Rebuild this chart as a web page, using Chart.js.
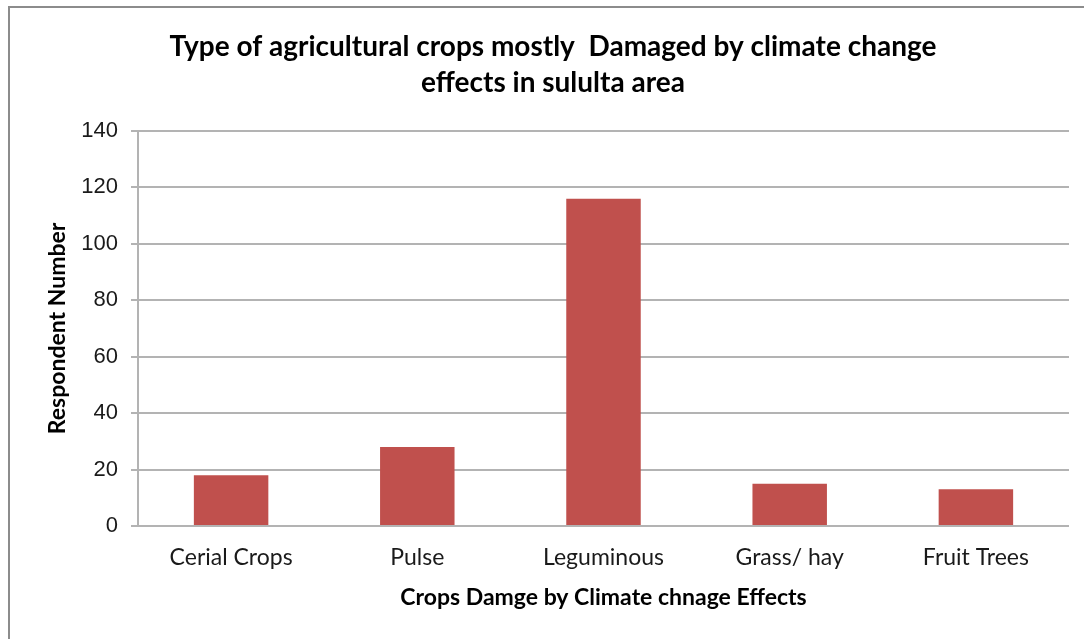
<!DOCTYPE html>
<html>
<head>
<meta charset="utf-8">
<script src="https://cdn.jsdelivr.net/npm/chart.js@4.4.1/dist/chart.umd.min.js"></script>
<style>
  html, body { margin: 0; padding: 0; background: #ffffff; }
  #wrap { position: relative; width: 1084px; height: 639px; }
</style>
</head>
<body>
<div id="wrap"><canvas id="chart" width="1084" height="639"></canvas></div>
<script>
const categories = ["Cerial Crops", "Pulse", "Leguminous", "Grass/ hay", "Fruit Trees"];
const respondents = [18, 28, 116, 15, 13];
const yTicks = [0, 20, 40, 60, 80, 100, 120, 140];
const titleLines = ["Type of agricultural crops mostly  Damaged by climate change", "effects in sululta area"];
const xTitle = "Crops Damge by Climate chnage Effects";
const yTitle = "Respondent Number";

const FONT = "Lato, 'Open Sans', sans-serif";
const NUM_FONT = "'Liberation Sans', Arial, sans-serif";
const GRID = "#b3b3b3";

// white page with a grey frame along the top and left edge
const framePlugin = {
  id: "frame",
  beforeDraw(chart) {
    const ctx = chart.ctx;
    ctx.save();
    ctx.fillStyle = "#ffffff";
    ctx.fillRect(0, 0, chart.width, chart.height);
    ctx.strokeStyle = "#8c8c8c";
    ctx.lineWidth = 2;
    ctx.beginPath();
    ctx.moveTo(9, chart.height);
    ctx.lineTo(9, 7);
    ctx.lineTo(chart.width, 7);
    ctx.stroke();
    ctx.restore();
  }
};

new Chart(document.getElementById("chart"), {
  type: "bar",
  data: {
    labels: categories,
    datasets: [{
      data: respondents,
      backgroundColor: "#c0504d",
      borderWidth: 0,
      barPercentage: 0.4,
      categoryPercentage: 1.0
    }]
  },
  options: {
    responsive: false,
    animation: false,
    layout: { padding: { left: 37, right: 15, top: 0, bottom: 0 } },
    plugins: {
      legend: { display: false },
      tooltip: { enabled: false },
      title: {
        display: true,
        text: titleLines,
        color: "#000000",
        font: { family: FONT, size: 28, weight: "bold", lineHeight: 1.32 },
        padding: { top: 28, bottom: 29 }
      }
    },
    scales: {
      x: {
        grid: { display: false },
        border: { display: false },
        ticks: {
          color: "#1a1a1a",
          font: { family: FONT, size: 23 },
          padding: 10,
          maxRotation: 0
        },
        title: {
          display: true,
          text: xTitle,
          color: "#000000",
          font: { family: FONT, size: 23, weight: "bold" },
          padding: { top: 0, bottom: 28 }
        },
        afterFit(scale) { scale.height = 113; }
      },
      y: {
        min: 0,
        max: 140,
        afterBuildTicks(scale) { scale.ticks = yTicks.map(v => ({ value: v })); },
        grid: { color: GRID, lineWidth: 2, tickLength: 7, drawTicks: true, tickColor: GRID },
        border: { display: true, color: GRID, width: 2 },
        ticks: {
          color: "#1a1a1a",
          font: { family: NUM_FONT, size: 22 },
          padding: 13
        },
        title: {
          display: true,
          text: yTitle,
          color: "#000000",
          font: { family: FONT, size: 23, weight: "bold" },
          padding: { top: 7, bottom: 0 }
        },
        afterFit(scale) { scale.width = 101; }
      }
    }
  },
  plugins: [framePlugin]
});
</script>
</body>
</html>
